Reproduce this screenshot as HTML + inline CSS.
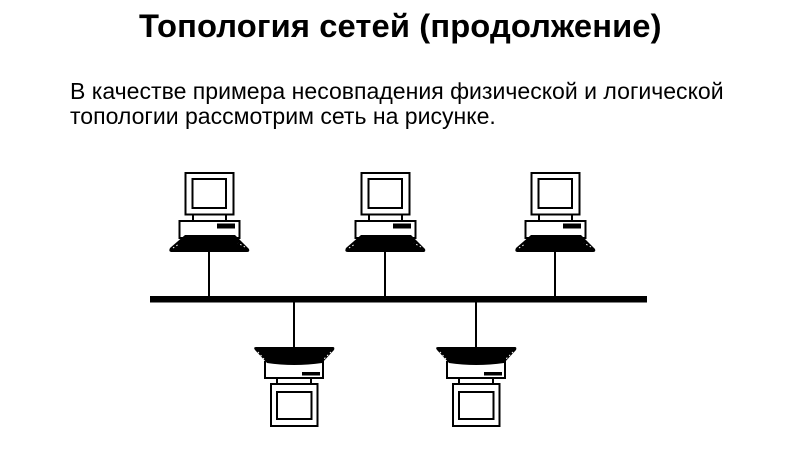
<!DOCTYPE html>
<html><head><meta charset="utf-8">
<style>
html,body{margin:0;padding:0;background:#fff}
body{width:800px;height:450px;overflow:hidden;position:relative;font-family:"Liberation Sans",sans-serif;color:#000}
.t{position:absolute;white-space:nowrap}
svg{position:absolute;left:0;top:0}
</style></head><body>
<div class="t" style="left:139px;top:7px;font-size:32.7px;line-height:38px;font-weight:bold;letter-spacing:.13px">Топология сетей (продолжение)</div>
<div class="t" style="left:70px;top:78px;font-size:23.05px;line-height:26px">В качестве примера несовпадения физической и логической</div>
<div class="t" style="left:70px;top:103px;font-size:23.05px;line-height:26px">топологии рассмотрим сеть на рисунке.</div>
<svg width="800" height="450" viewBox="0 0 800 450">
<defs>
<g id="pc">
<rect x="25.5" y="13" width="48" height="41.5" fill="#fff" stroke="#000" stroke-width="2"/>
<rect x="32.5" y="19" width="33.5" height="29" fill="#fff" stroke="#000" stroke-width="2"/>
<path d="M33 54v6M66 54v6" stroke="#000" stroke-width="2" fill="none"/>
<rect x="19.5" y="61" width="60" height="17" fill="#fff" stroke="#000" stroke-width="2"/>
<rect x="57" y="63.5" width="18" height="5" fill="#000"/>
<path d="M25 75H75L89 89Q90 92 87 92H12Q8 92 10 88Z" fill="#000"/>
<path d="M13 88L19 84M85 87L78 83" stroke="#fff" stroke-width="1" stroke-dasharray="1.5 2.5" fill="none"/>
</g>
</defs>
<use href="#pc" x="160" y="160"/>
<use href="#pc" x="336" y="160"/>
<use href="#pc" x="506" y="160"/>
<rect x="150" y="296" width="497" height="6.5" fill="#000"/>
<path d="M209 252V297M385 252V297M555 252V297M294 302V347M476 302V347" stroke="#000" stroke-width="2" fill="none"/>
<g id="b1">
<path d="M265 361V378H323V361" fill="#fff" stroke="#000" stroke-width="2"/>
<path d="M256 347H333Q335 347 334 350L322 363Q294 367 267 363L255 350Q253 347 256 347Z" fill="#000"/>
<path d="M258 352L264 359M331 352L324 359" stroke="#fff" stroke-width="1" stroke-dasharray="1.5 2.5" fill="none"/>
<rect x="302" y="372" width="18" height="3.5" fill="#000"/>
<path d="M277 378v6M311 378v6" stroke="#000" stroke-width="2" fill="none"/>
<rect x="271" y="384" width="46.5" height="42" fill="#fff" stroke="#000" stroke-width="2"/>
<rect x="277" y="392" width="34.5" height="27" fill="#fff" stroke="#000" stroke-width="2"/>
</g>
<use href="#b1" x="182" y="0"/>
</svg>
</body></html>
